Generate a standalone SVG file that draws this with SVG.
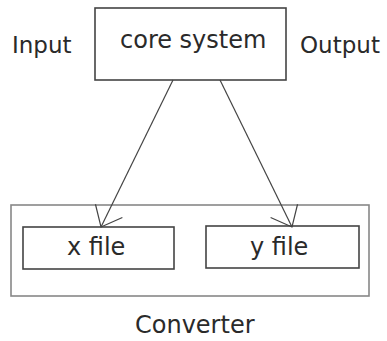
<svg xmlns="http://www.w3.org/2000/svg" width="387" height="341" viewBox="0 0 387 341">
  <style>
    .box { fill: #fff; stroke: #444; stroke-width: 1.6; }
    .frame { fill: none; stroke: #888; stroke-width: 1.6; }
    .label { font-family: "DejaVu Sans", sans-serif; font-size: 24px; fill: #2a2a2a; }
    .side { font-size: 23px; }
    .edge { fill: none; stroke: #444; stroke-width: 1.2; }
  </style>
  <defs>
    <marker id="open-arrow" markerWidth="22" markerHeight="34" refX="19" refY="17" orient="auto" markerUnits="userSpaceOnUse">
      <path d="M1,2 L19,17 L1,32" fill="none" stroke="#444" stroke-width="1.2"/>
    </marker>
  </defs>
  <rect width="387" height="341" fill="#fff"/>

  <g id="converter">
    <rect class="frame" x="11" y="205" width="358" height="91"/>
    <text class="label" x="135" y="333">Converter</text>
  </g>

  <g id="core-system">
    <rect class="box" x="95" y="8" width="191" height="72"/>
    <text class="label" x="120" y="48">core system</text>
  </g>

  <g id="input">
    <text class="label side" x="12" y="53">Input</text>
  </g>

  <g id="output">
    <text class="label side" x="300" y="53">Output</text>
  </g>

  <g id="x-file">
    <rect class="box" x="23" y="227" width="151" height="42"/>
    <text class="label" x="67" y="255">x file</text>
  </g>

  <g id="y-file">
    <rect class="box" x="206" y="226" width="153" height="42"/>
    <text class="label" x="250" y="255">y file</text>
  </g>

  <g id="connectors">
    <line class="edge" x1="173" y1="80" x2="101" y2="227" marker-end="url(#open-arrow)"/>
    <line class="edge" x1="220" y1="80" x2="292" y2="227" marker-end="url(#open-arrow)"/>
  </g>
</svg>
